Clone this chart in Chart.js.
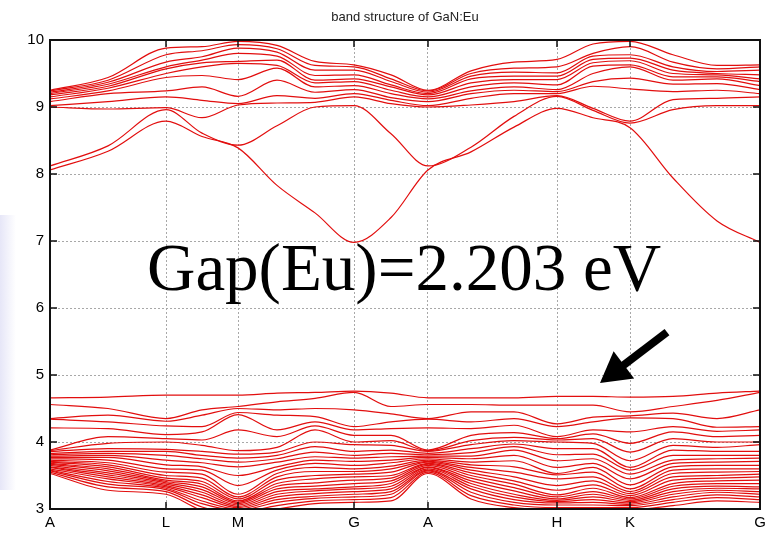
<!DOCTYPE html>
<html>
<head>
<meta charset="utf-8">
<script src="https://cdn.jsdelivr.net/npm/chart.js@4.4.1/dist/chart.umd.min.js"></script>
<style>
  html, body { margin: 0; padding: 0; background: #fff; }
  #wrap { position: relative; width: 778px; height: 533px; }
  #stripe {
    position: absolute; left: 0; top: 215px; width: 16px; height: 275px;
    background: linear-gradient(to right, rgba(200,200,238,0.45), rgba(255,255,255,0));
  }
  canvas { position: absolute; left: 0; top: 0; }
</style>
</head>
<body>
<div id="wrap">
  <div id="stripe"></div>
  <canvas id="bandChart" width="778" height="533"></canvas>
</div>
<script>
// k-path (distance along the path) and the high-symmetry labels
const tickPos = [0, 116, 188, 304, 378, 507, 580, 710];
const tickNames = ['A', 'L', 'M', 'G', 'A', 'H', 'K', 'G'];
const kPath = [0, 58, 116, 152, 188, 227, 265, 304, 341, 378, 421, 464, 507, 543, 580, 623, 667, 710];

// conduction band energies (eV) read at each k sample, lowest band first
const cbA   = [8.06, 8.12, 9.00, 9.02, 9.08, 9.12, 9.15, 9.18, 9.20, 9.22, 9.24, 9.25];
const cbAL  = [8.34, 8.42, 8.97, 9.08, 9.20, 9.24, 9.28, 9.31, 9.34, 9.37, 9.40, 9.44];
const cbL   = [8.79, 8.96, 8.99, 9.15, 9.24, 9.44, 9.50, 9.57, 9.60, 9.67, 9.78, 9.88];
const cbLM  = [8.56, 8.61, 8.84, 9.10, 9.30, 9.47, 9.60, 9.66, 9.70, 9.75, 9.84, 9.90];
const cbM   = [8.39, 8.43, 9.03, 9.05, 9.16, 9.41, 9.65, 9.68, 9.80, 9.88, 9.93, 9.98];
const cbMG1 = [7.83, 8.72, 9.06, 9.17, 9.40, 9.58, 9.62, 9.70, 9.76, 9.82, 9.87, 9.92];
const cbMG2 = [7.42, 9.00, 9.07, 9.13, 9.22, 9.30, 9.36, 9.40, 9.47, 9.55, 9.62, 9.68];
const cbG   = [6.98, 9.02, 9.15, 9.20, 9.26, 9.32, 9.38, 9.42, 9.48, 9.55, 9.60, 9.63];
const cbGA  = [7.35, 8.60, 9.05, 9.10, 9.14, 9.20, 9.25, 9.30, 9.33, 9.38, 9.42, 9.48];
const cbAH1 = [8.33, 8.40, 9.03, 9.13, 9.20, 9.24, 9.30, 9.36, 9.42, 9.46, 9.50, 9.54];
const cbAH2 = [8.70, 8.86, 9.08, 9.20, 9.25, 9.30, 9.36, 9.41, 9.46, 9.52, 9.58, 9.67];
const cbH   = [8.98, 9.16, 9.17, 9.20, 9.23, 9.26, 9.33, 9.41, 9.46, 9.51, 9.60, 9.71];
const cbHK  = [8.84, 8.95, 8.98, 9.31, 9.38, 9.50, 9.61, 9.66, 9.71, 9.76, 9.80, 9.94];
const cbK   = [8.69, 8.76, 8.79, 9.27, 9.43, 9.60, 9.63, 9.69, 9.73, 9.78, 9.90, 9.98];
const cbKG1 = [7.94, 8.96, 9.11, 9.23, 9.34, 9.40, 9.45, 9.50, 9.55, 9.60, 9.67, 9.78];
const cbKG2 = [7.30, 9.02, 9.13, 9.25, 9.35, 9.42, 9.45, 9.48, 9.50, 9.53, 9.57, 9.62];

// valence (Eu 4f region) band energies (eV) at each k sample
const vbA   = [3.53, 3.55, 3.57, 3.58, 3.60, 3.62, 3.63, 3.65, 3.67, 3.68, 3.70, 3.71, 3.73, 3.75, 3.77, 3.79, 3.81, 3.83, 3.86, 3.87, 3.88, 4.21, 4.34, 4.35, 4.56, 4.66];
const vbAL  = [3.28, 3.33, 3.37, 3.41, 3.45, 3.48, 3.51, 3.54, 3.57, 3.60, 3.63, 3.66, 3.69, 3.73, 3.77, 3.80, 3.83, 3.86, 3.90, 3.98, 4.08, 4.20, 4.30, 4.40, 4.50, 4.67];
const vbL   = [3.22, 3.26, 3.29, 3.31, 3.33, 3.35, 3.37, 3.39, 3.41, 3.43, 3.46, 3.50, 3.55, 3.60, 3.66, 3.73, 3.80, 3.86, 3.89, 4.00, 4.05, 4.11, 4.24, 4.31, 4.35, 4.70];
const vbLM  = [2.98, 3.03, 3.08, 3.12, 3.17, 3.21, 3.25, 3.29, 3.33, 3.37, 3.41, 3.46, 3.52, 3.58, 3.63, 3.69, 3.75, 3.80, 3.86, 3.95, 4.03, 4.15, 4.23, 4.40, 4.48, 4.70];
const vbM   = [2.90, 2.95, 2.98, 3.00, 3.02, 3.04, 3.06, 3.08, 3.10, 3.12, 3.15, 3.18, 3.22, 3.35, 3.50, 3.63, 3.70, 3.76, 3.82, 3.87, 4.18, 4.41, 4.44, 4.50, 4.53, 4.70];
const vbMG1 = [3.00, 3.05, 3.10, 3.14, 3.18, 3.22, 3.26, 3.30, 3.34, 3.38, 3.43, 3.48, 3.53, 3.58, 3.63, 3.70, 3.75, 3.80, 3.85, 3.92, 4.08, 4.18, 4.40, 4.48, 4.60, 4.73];
const vbMG2 = [3.08, 3.12, 3.16, 3.19, 3.23, 3.27, 3.30, 3.34, 3.39, 3.45, 3.50, 3.56, 3.62, 3.68, 3.73, 3.78, 3.85, 3.93, 4.00, 4.18, 4.24, 4.30, 4.38, 4.50, 4.65, 4.74];
const vbG   = [3.10, 3.14, 3.18, 3.22, 3.26, 3.30, 3.33, 3.38, 3.43, 3.48, 3.52, 3.56, 3.60, 3.65, 3.71, 3.76, 3.80, 3.86, 3.96, 4.00, 4.10, 4.18, 4.23, 4.48, 4.74, 4.76];
const vbGA  = [3.12, 3.17, 3.22, 3.26, 3.30, 3.34, 3.38, 3.42, 3.46, 3.50, 3.55, 3.60, 3.64, 3.69, 3.73, 3.78, 3.83, 3.88, 3.95, 4.02, 4.10, 4.20, 4.30, 4.42, 4.53, 4.73];
const vbAH1 = [3.15, 3.20, 3.25, 3.30, 3.34, 3.38, 3.42, 3.46, 3.50, 3.54, 3.58, 3.62, 3.66, 3.70, 3.75, 3.79, 3.84, 3.90, 3.96, 4.02, 4.10, 4.20, 4.30, 4.45, 4.56, 4.66];
const vbAH2 = [3.02, 3.06, 3.10, 3.14, 3.18, 3.22, 3.27, 3.32, 3.37, 3.42, 3.48, 3.55, 3.63, 3.72, 3.80, 3.88, 3.93, 3.97, 4.02, 4.07, 4.14, 4.25, 4.35, 4.45, 4.55, 4.66];
const vbH   = [2.98, 3.02, 3.06, 3.09, 3.11, 3.13, 3.15, 3.18, 3.21, 3.28, 3.35, 3.45, 3.51, 3.53, 3.62, 3.72, 3.81, 3.90, 4.00, 4.03, 4.05, 4.08, 4.23, 4.27, 4.55, 4.68];
const vbHK  = [2.97, 3.02, 3.06, 3.10, 3.14, 3.18, 3.22, 3.26, 3.31, 3.36, 3.42, 3.48, 3.55, 3.62, 3.68, 3.75, 3.82, 3.90, 3.98, 4.05, 4.12, 4.18, 4.30, 4.37, 4.55, 4.68];
const vbK   = [2.98, 3.02, 3.05, 3.07, 3.09, 3.11, 3.13, 3.15, 3.17, 3.20, 3.23, 3.26, 3.30, 3.36, 3.45, 3.52, 3.58, 3.62, 3.72, 3.85, 3.98, 4.15, 4.36, 4.39, 4.45, 4.67];
const vbKG1 = [3.05, 3.10, 3.14, 3.18, 3.22, 3.26, 3.30, 3.34, 3.38, 3.43, 3.48, 3.53, 3.58, 3.63, 3.68, 3.73, 3.80, 3.88, 3.95, 4.05, 4.15, 4.23, 4.35, 4.43, 4.53, 4.68];
const vbKG2 = [3.12, 3.17, 3.21, 3.25, 3.28, 3.31, 3.34, 3.38, 3.42, 3.46, 3.50, 3.55, 3.60, 3.65, 3.70, 3.75, 3.80, 3.86, 3.92, 4.00, 4.08, 4.16, 4.22, 4.35, 4.62, 4.73];

const gapLabel = 'Gap(Eu)=2.203 eV';
const gapAt = [97, 6.27];             // text start (k, E)
const arrowFrom = [617, 5.64];        // arrow tail (k, E)
const arrowTo = [550, 4.88];          // arrow tip (k, E)

const red = 'rgb(226,14,14)';

// the path visits A and G twice
const cbCols = [cbA, cbAL, cbL, cbLM, cbM, cbMG1, cbMG2, cbG, cbGA, cbA, cbAH1, cbAH2, cbH, cbHK, cbK, cbKG1, cbKG2, cbG];
const vbCols = [vbA, vbAL, vbL, vbLM, vbM, vbMG1, vbMG2, vbG, vbGA, vbA, vbAH1, vbAH2, vbH, vbHK, vbK, vbKG1, vbKG2, vbG];

function bandSeries(cols) {
  const out = [];
  for (let b = 0; b < cols[0].length; b++) {
    out.push({
      data: kPath.map((k, i) => ({ x: k, y: cols[i][b] })),
      borderColor: red,
      borderWidth: 1.2,
      pointRadius: 0,
      fill: false,
      cubicInterpolationMode: 'monotone'
    });
  }
  return out;
}

Chart.defaults.font.family = "'Liberation Sans', Arial, sans-serif";
Chart.defaults.color = '#000';

// frame, inward ticks, title, gap text and arrow
const overlay = {
  id: 'overlay',
  afterDatasetsDraw(chart) {
    const { ctx, chartArea: a, scales: { x, y } } = chart;
    ctx.save();
    ctx.strokeStyle = '#111';
    ctx.lineWidth = 1.5;
    ctx.beginPath();
    tickPos.slice(1, -1).forEach(v => {
      const px = x.getPixelForValue(v);
      ctx.moveTo(px, a.bottom); ctx.lineTo(px, a.bottom - 7);
      ctx.moveTo(px, a.top); ctx.lineTo(px, a.top + 7);
    });
    y.ticks.forEach(t => {
      const py = y.getPixelForValue(t.value);
      ctx.moveTo(a.left, py); ctx.lineTo(a.left + 7, py);
      ctx.moveTo(a.right, py); ctx.lineTo(a.right - 7, py);
    });
    ctx.stroke();
    ctx.lineWidth = 2;
    ctx.strokeRect(a.left, a.top, a.right - a.left, a.bottom - a.top);

    ctx.fillStyle = '#222';
    ctx.font = "13px 'Liberation Sans', Arial, sans-serif";
    ctx.textAlign = 'center';
    ctx.textBaseline = 'alphabetic';
    ctx.fillText('band structure of GaN:Eu', (a.left + a.right) / 2, 21);

    ctx.fillStyle = '#000';
    ctx.font = "67px 'Liberation Serif', 'Times New Roman', serif";
    ctx.textAlign = 'left';
    ctx.fillText(gapLabel, x.getPixelForValue(gapAt[0]), y.getPixelForValue(gapAt[1]));

    const x0 = x.getPixelForValue(arrowFrom[0]), y0 = y.getPixelForValue(arrowFrom[1]);
    const x1 = x.getPixelForValue(arrowTo[0]), y1 = y.getPixelForValue(arrowTo[1]);
    const ang = Math.atan2(y1 - y0, x1 - x0);
    const headLen = 30, headHalf = 17;
    const bx = x1 - headLen * Math.cos(ang), by = y1 - headLen * Math.sin(ang);
    ctx.strokeStyle = '#000';
    ctx.lineWidth = 8;
    ctx.lineCap = 'butt';
    ctx.beginPath();
    ctx.moveTo(x0, y0);
    ctx.lineTo(bx + 2 * Math.cos(ang), by + 2 * Math.sin(ang));
    ctx.stroke();
    ctx.beginPath();
    ctx.moveTo(x1, y1);
    ctx.lineTo(bx + headHalf * Math.sin(ang), by - headHalf * Math.cos(ang));
    ctx.lineTo(bx - headHalf * Math.sin(ang), by + headHalf * Math.cos(ang));
    ctx.closePath();
    ctx.fill();
    ctx.restore();
  }
};

const gridOpts = { color: '#a8a8a8', lineWidth: 1, drawTicks: false };

new Chart(document.getElementById('bandChart'), {
  type: 'line',
  data: { datasets: [...bandSeries(cbCols), ...bandSeries(vbCols)] },
  options: {
    responsive: false,
    animation: false,
    layout: { padding: { top: 40, right: 18, left: 0, bottom: 0 } },
    plugins: {
      legend: { display: false },
      tooltip: { enabled: false },
      title: { display: false }
    },
    scales: {
      x: {
        type: 'linear',
        min: 0,
        max: 710,
        afterBuildTicks: s => { s.ticks = tickPos.map(v => ({ value: v })); },
        afterFit: s => { s.height = 24; },
        ticks: {
          autoSkip: false,
          maxRotation: 0,
          padding: 5,
          font: { size: 15 },
          callback: (v, i) => tickNames[i]
        },
        grid: gridOpts,
        border: { display: false, dash: [2, 2] }
      },
      y: {
        min: 3,
        max: 10,
        afterFit: s => { s.width = 50; },
        ticks: { stepSize: 1, padding: 6, font: { size: 15 } },
        grid: gridOpts,
        border: { display: false, dash: [2, 2] }
      }
    }
  },
  plugins: [overlay]
});
</script>
</body>
</html>
